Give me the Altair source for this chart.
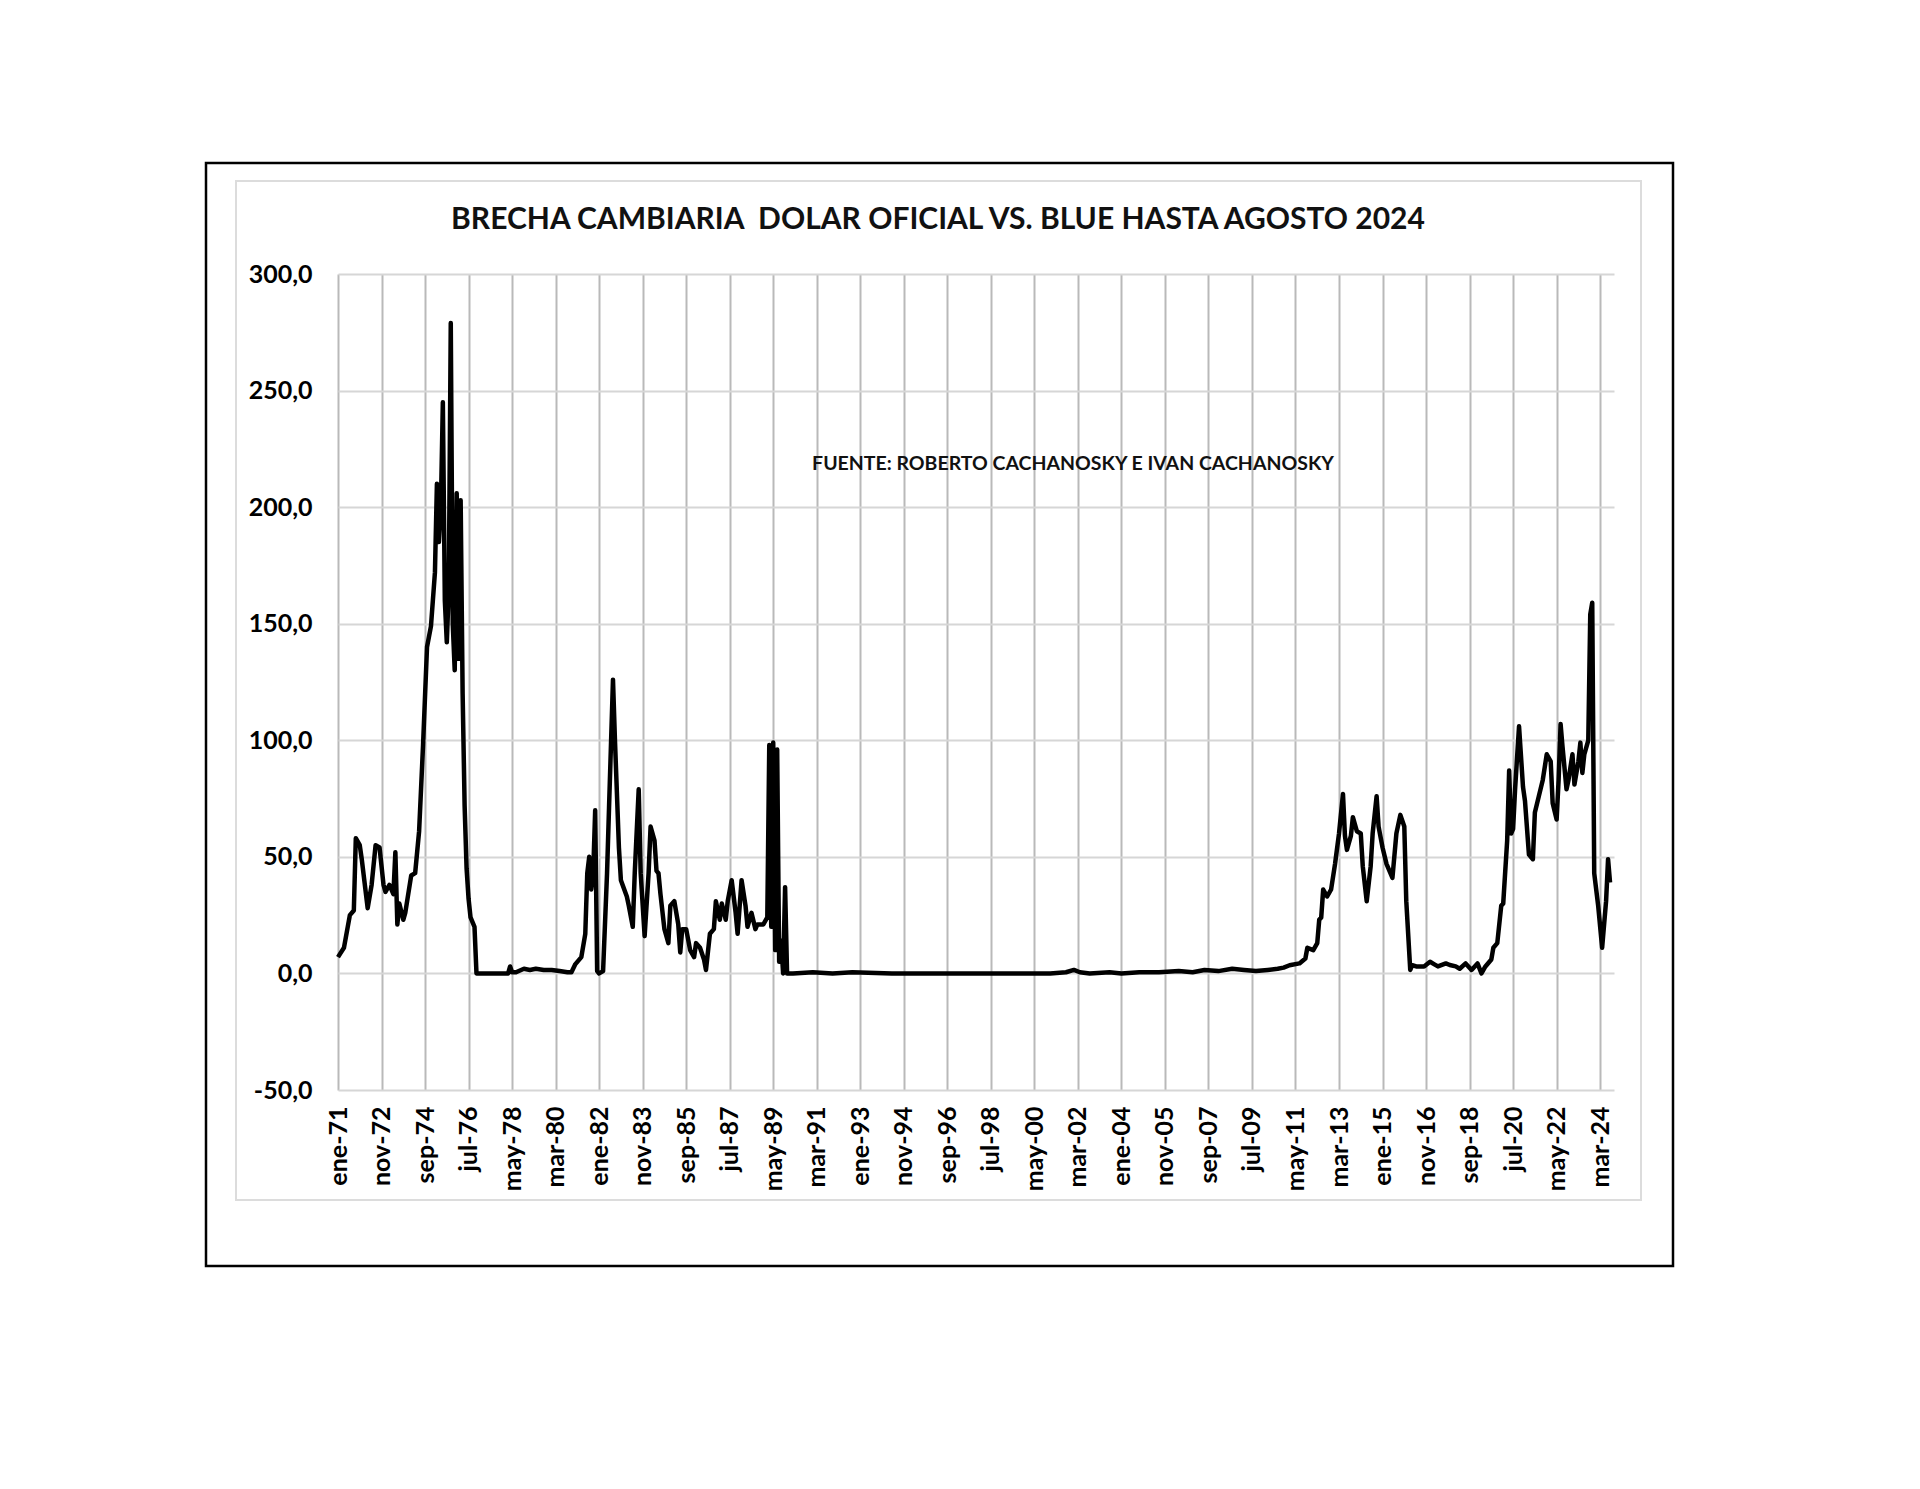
import json
import altair as alt
import pandas as pd

# ---- data: monthly gap (%); x = months since ene-1971 ----
months_since_jan1971 = [
    0, 3, 6, 8, 9, 11, 12, 15, 17, 19, 21, 23, 24, 26, 28, 29, 30, 31, 33, 34,
    37, 39, 41, 43, 45, 47, 49, 50, 51, 52, 53, 54, 55, 56, 57, 58, 59, 60, 61, 62,
    63, 64, 65, 66, 67, 68, 69, 70,
    71, 80, 86, 87, 88, 90, 94, 97, 100, 104, 108, 112, 116, 118,
    120, 123, 125, 126, 127, 128, 129, 130, 131, 132, 134, 136, 137, 139, 140, 142, 143, 146,
    147, 149, 150, 152, 153, 155, 157, 158, 160, 161, 162, 163, 165, 167, 168, 170, 172, 173,
    174, 176, 178, 180, 181, 183, 185, 186, 188, 190, 191, 193, 194, 196, 197, 199, 201, 202,
    204, 206, 207, 209, 211, 212, 215, 217, 218, 219, 220, 221, 222, 223, 224, 225, 226, 227,
    230, 240, 250, 260, 280, 300, 330, 360, 368, 372, 375, 380, 390, 396, 405, 415, 425, 432,
    438, 445, 452, 458, 464, 470, 475, 478, 481,
    486, 489, 490, 493, 495, 496, 497, 498, 500, 502, 504, 506, 508, 509, 510, 512, 513, 515,
    517, 518, 520, 522, 523, 525, 526, 528, 530, 533, 535, 537, 539, 540, 542, 543, 545, 549,
    552, 554, 556, 560, 562, 565, 567, 570, 573, 576, 578, 580, 583, 584, 586, 588, 589, 591,
    592, 593, 594, 595, 597, 599, 600, 602, 604, 605, 607, 609, 611, 613, 614, 616, 617, 618,
    619, 621, 622, 624, 625, 627, 628, 629, 630, 632, 633, 634, 635, 637, 639, 641, 642, 643,
]
brecha = [
    7, 11, 25, 27, 58, 55, 49, 28, 38, 55, 54, 38, 35, 38, 34, 52, 21, 30, 23, 26,
    42, 43, 61, 98, 140, 149, 172, 210, 185, 200, 245, 160, 142, 165, 279, 150, 130, 206, 135, 203,
    120, 72, 45, 32, 24, 22, 20, 0,
    0, 0, 0, 3, 0.5, 0.5, 2, 1.5, 2, 1.5, 1.5, 1, 0.5, 0.5,
    4, 7, 17, 43, 50, 36, 43, 70, 1, 0, 1, 43, 71, 126, 100, 54, 40, 33,
    29, 20, 43, 79, 43, 16, 43, 63, 57, 44, 43, 34, 19, 13, 29, 31, 21, 9,
    19, 19, 10, 7, 13, 11, 6, 1.5, 17, 19, 31, 23, 30, 23, 31, 40, 26, 17,
    40, 29, 20, 26, 19, 21, 21, 24, 98, 20, 99, 10, 96, 5, 14, 0, 37, 0,
    0, 0.5, 0, 0.5, 0, 0, 0, 0, 0.5, 1.5, 0.5, 0, 0.5, 0, 0.5, 0.5, 1, 0.5,
    1.5, 1, 2, 1.5, 1, 1.5, 2, 2.5, 3.5,
    4.3, 6.4, 11, 10, 13, 23, 24, 36, 33, 36, 47, 60, 77, 59, 53, 59, 67, 61,
    60, 46, 31, 46, 60, 76, 63, 54, 47, 41, 60, 68, 63, 31, 1.5, 3.6, 3, 3,
    5, 4, 3, 4.3, 3.6, 3, 2, 4.3, 1.5, 4.3, 0, 3, 6, 11, 13, 29, 30, 57,
    87, 60, 62, 79, 106, 80, 74, 51, 49, 69, 76, 83, 94, 91, 73, 66, 83, 107,
    97, 79, 83, 94, 81, 91, 99, 86, 94, 100, 154, 159, 43, 29, 11, 31, 49, 39,
]

x_tick_labels = [
    "ene-71", "nov-72", "sep-74", "jul-76", "may-78", "mar-80", "ene-82", "nov-83",
    "sep-85", "jul-87", "may-89", "mar-91", "ene-93", "nov-94", "sep-96", "jul-98",
    "may-00", "mar-02", "ene-04", "nov-05", "sep-07", "jul-09", "may-11", "mar-13",
    "ene-15", "nov-16", "sep-18", "jul-20", "may-22", "mar-24",
]
x_tick_step = 22
y_ticks = [-50, 0, 50, 100, 150, 200, 250, 300]

title_text = "BRECHA CAMBIARIA\u00a0 DOLAR OFICIAL VS. BLUE HASTA AGOSTO 2024"
source_text = "FUENTE: ROBERTO CACHANOSKY E IVAN CACHANOSKY"

df = pd.DataFrame({"mes": months_since_jan1971, "brecha": brecha})

# ---- layout (pixels) ----
PL, PT = 338, 274          # plot-area origin on the page
W, H = 1276, 816           # plot-area size
PAGE_W, PAGE_H = 1920, 1489
FONT = "Lato"

x_vals = [i * x_tick_step for i in range(len(x_tick_labels))]
x_label_expr = json.dumps(x_tick_labels) + f"[round(datum.value/{x_tick_step})]"
y_label_expr = "(datum.value < 0 ? '-' : '') + replace(format(abs(datum.value), '.1f'), '.', ',')"

line = alt.Chart(df).mark_line(color="black", strokeWidth=4.5, strokeJoin="round").encode(
    x=alt.X(
        "mes:Q",
        scale=alt.Scale(domain=[0, 645], nice=False, zero=False),
        axis=alt.Axis(
            values=x_vals, labelExpr=x_label_expr, labelAngle=270,
            labelFont=FONT, labelFontSize=25, labelFontWeight="bold", labelColor="black",
            labelPadding=16, labelOverlap=False, labelBound=False, labelFlush=False,
            grid=True, gridColor="#b9b9b9", gridWidth=2,
            domain=False, ticks=False, title=None,
        ),
    ),
    y=alt.Y(
        "brecha:Q",
        scale=alt.Scale(domain=[-50, 300], nice=False, zero=False),
        axis=alt.Axis(
            values=y_ticks, labelExpr=y_label_expr,
            labelFont=FONT, labelFontSize=25, labelFontWeight="bold", labelColor="black",
            labelPadding=26, labelOverlap=False,
            grid=True, gridColor="#d6d6d6", gridWidth=2,
            domain=False, ticks=False, title=None,
        ),
    ),
)

one = pd.DataFrame({"k": [0]})

outer = alt.Chart(one).mark_rect(fill="transparent", stroke="black", strokeWidth=2.5).encode(
    x=alt.value(206 - PL), x2=alt.value(1673 - PL),
    y=alt.value(163 - PT), y2=alt.value(1266 - PT),
)
inner = alt.Chart(one).mark_rect(fill="transparent", stroke="#dcdcdc", strokeWidth=2).encode(
    x=alt.value(236 - PL), x2=alt.value(1641 - PL),
    y=alt.value(181 - PT), y2=alt.value(1200 - PT),
)

title = alt.Chart(one).mark_text(
    text=title_text, font=FONT, fontSize=30, fontWeight="bold", color="#111111",
    align="center", baseline="middle",
).encode(x=alt.value(938 - PL), y=alt.value(220 - PT))

source = alt.Chart(one).mark_text(
    text=source_text, font=FONT, fontSize=19.5, fontWeight="bold", color="#111111",
    align="center", baseline="middle",
).encode(x=alt.value(1073 - PL), y=alt.value(464 - PT))

chart = alt.layer(outer, inner, line, title, source).properties(
    width=W, height=H,
    padding={"left": PL, "top": PT, "right": PAGE_W - PL - W, "bottom": PAGE_H - PT - H},
    autosize=alt.AutoSizeParams(type="none"),
    background="white",
).configure_view(strokeWidth=0)

chart.save("out.html", embed_options={"renderer": "svg", "actions": False})
